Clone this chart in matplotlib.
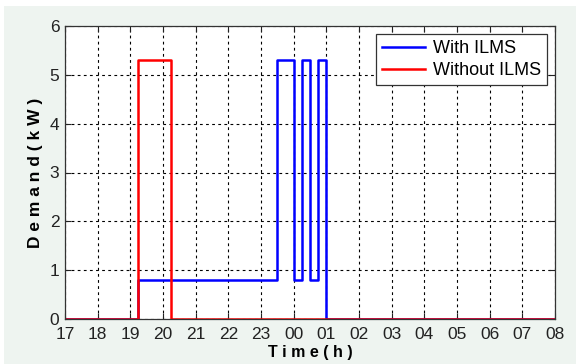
import matplotlib
matplotlib.use('Agg')
from matplotlib import pyplot as plt
from matplotlib.patches import Rectangle

plt.rcParams['font.family'] = ['Liberation Sans', 'DejaVu Sans']

# hours counted from 17:00 (17 -> 17, 00 -> 24, 08 -> 32)
with_t = [17, 19.25, 19.25, 23.5, 23.5, 24.0, 24.0, 24.25, 24.25, 24.5, 24.5, 24.75, 24.75, 25.0, 25.0, 32]
with_kw = [0, 0, 0.8, 0.8, 5.3, 5.3, 0.8, 0.8, 5.3, 5.3, 0.8, 0.8, 5.3, 5.3, 0, 0]
without_t = [17, 19.25, 19.25, 20.25, 20.25, 32]
without_kw = [0, 0, 5.3, 5.3, 0, 0]

tick_pos = list(range(17, 33))
tick_lbl = ['17', '18', '19', '20', '21', '22', '23', '00', '01', '02',
            '03', '04', '05', '06', '07', '08']

fig = plt.figure(figsize=(5.76, 3.64), dpi=100)
fig.patch.set_facecolor('white')
fig.patches.append(Rectangle((4 / 576, 0), 1, 1 - 6 / 364, transform=fig.transFigure,
                             facecolor='#eef4f0', edgecolor='none', zorder=-10))

ax = fig.add_axes([65 / 576, 45 / 364, 490 / 576, 293 / 364])
ax.set_facecolor('white')

ax.plot(with_t, with_kw, color='#0000ff', lw=1.8, label='With ILMS')
ax.plot(without_t, without_kw, color='#ff0000', lw=1.8, label='Without ILMS')

ax.set_xlim(17, 32)
ax.set_ylim(0, 6)
ax.set_xticks(tick_pos)
ax.set_xticklabels(tick_lbl)
ax.set_yticks(range(0, 7))

ax.grid(True, color='black', linestyle=(0, (2.5, 3)), lw=0.8)
ax.tick_params(direction='in', top=True, right=True, labelsize=12.5,
               length=4, width=0.8, colors='#222222')
ax.tick_params(axis='x', pad=6)
ax.tick_params(axis='y', pad=4)
for s in ax.spines.values():
    s.set_color('#333333')
    s.set_linewidth(0.9)

ax.set_xlabel('T i m e ( h )', fontsize=11.5, fontweight='bold', labelpad=2)
ax.set_ylabel('D e m a n d ( k W )', fontsize=12.5, fontweight='bold', labelpad=5)

leg = ax.legend(loc='upper right', fontsize=13, fancybox=False, framealpha=1,
                edgecolor='#333333', handlelength=2.4, borderpad=0.35,
                labelspacing=0.25, handletextpad=0.4, borderaxespad=0,
                bbox_to_anchor=(547 / 576, 330 / 364), bbox_transform=fig.transFigure)
leg.get_frame().set_linewidth(0.9)

plt.savefig('out.png', dpi=100)
